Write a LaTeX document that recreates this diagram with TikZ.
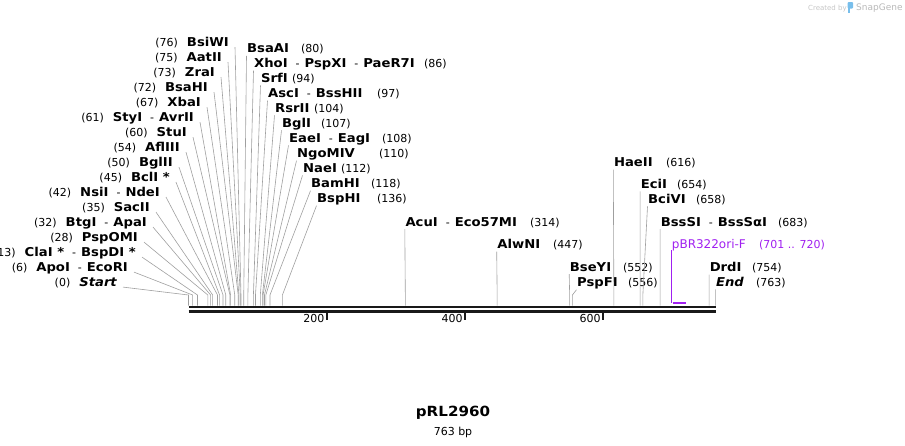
\documentclass[tikz,border=0pt]{standalone}
\usepackage{fontspec}
\setmainfont{DejaVu Sans}
\newfontfamily\ezfont{DejaVu Sans}[FakeStretch=1.08]
\usepackage{tikz}
\usetikzlibrary{positioning}

\definecolor{primer}{RGB}{160,32,240}
\definecolor{logoblue}{RGB}{120,190,235}
\newcommand{\ez}[1]{{\ezfont\fontsize{12.2}{14}\selectfont\bfseries #1}}
\newcommand{\bpos}[1]{{\fontsize{11}{13}\selectfont #1}}
\newcommand{\cutsep}{{\fontsize{11}{13}\selectfont\hspace{8pt}-\hspace{5pt}}}

\begin{document}
\begin{tikzpicture}[x=1pt,y=-1pt,
	cut/.style={draw=gray!75, line width=0.6pt},
	lbl/.style={inner sep=0pt},
	bar/.style={draw=black!90, line width=2.6pt},
	tick/.style={draw=black!90, line width=2pt}]

	\useasboundingbox (0,0) rectangle (905,445);

	% sequence line
	\coordinate (barL) at (188.5,307);
	\coordinate (barR) at (715.5,307);
	\draw[bar] (barL) -- (barR);
	\draw[bar] ([yshift=-4.3pt]barL) -- ([yshift=-4.3pt]barR);

	\foreach \bp [count=\i] in {200,400,600}{
		\coordinate (t\i) at ({188.5+0.6905*\bp},312.5);
		\draw[tick] (t\i) -- ++(0,7);
		\node[lbl, anchor=base east, font=\fontsize{11}{13}\selectfont] (tl\i) at ([xshift=-2pt,yshift=-9.5pt]t\i) {\bp};
	}

	% sites left of the fan
	\foreach \ypos/\xend/\site/\cutname [count=\i] in {
		41.7/229/76/\ez{BsiWI},
		56.7/222/75/\ez{AatII},
		71.7/215/73/\ez{ZraI},
		86.7/208/72/\ez{BsaHI},
		101.7/201/67/\ez{XbaI},
		116.7/194/61/\ez{StyI}\cutsep\ez{AvrII},
		131.7/187/60/\ez{StuI},
		146.7/180/54/\ez{AflIII},
		161.7/173/50/\ez{BglII},
		176.7/170/45/\ez{BclI *},
		191.7/160/42/\ez{NsiI}\cutsep\ez{NdeI},
		206.7/150/35/\ez{SacII},
		221.7/147/32/\ez{BtgI}\cutsep\ez{ApaI},
		236.7/138/28/\ez{PspOMI},
		251.7/136/13/\ez{ClaI *}\cutsep\ez{BspDI *},
		266.7/128/6/\ez{ApoI}\cutsep\ez{EcoRI},
		281.7/117/0/\ez{\itshape Start}}{
		\node[lbl, anchor=base east] (L\i) at (\xend,\ypos+4.4) {\bpos{(\site)}\hspace{9pt}\cutname};
		\coordinate (Ls\i) at ({188.5+0.6905*\site},295);
		\coordinate (Lb\i) at ({188.5+0.6905*\site},305.7);
		\draw[cut] ([xshift=6pt,yshift=-1pt]L\i.base east) -- (Ls\i) -- (Lb\i);
	}

	% sites right of the fan and the rest
	\foreach \ypos/\xstart/\site/\cutname/\numx [count=\i] in {
		48.5/247/80/\ez{BsaAI}/301,
		63.3/254/86/\ez{XhoI}\cutsep\ez{PspXI}\cutsep\ez{PaeR7I}/424,
		78/261/94/\ez{SrfI}/292,
		93.3/268/97/\ez{AscI}\cutsep\ez{BssHII}/377,
		108/275/104/\ez{RsrII}/314,
		123/282/107/\ez{BglI}/321,
		138/289/108/\ez{EaeI}\cutsep\ez{EagI}/382,
		153.3/297/110/\ez{NgoMIV}/379,
		168/303/112/\ez{NaeI}/341,
		183.3/311/118/\ez{BamHI}/371,
		198.3/317/136/\ez{BspHI}/377,
		221.7/405.3/314/\ez{AcuI}\cutsep\ez{Eco57MI}/530,
		244.3/497.2/447/\ez{AlwNI}/553,
		266.7/569.7/552/\ez{BseYI}/623,
		282.3/577/556/\ez{PspFI}/628,
		162.3/613.8/616/\ez{HaeII}/666,
		184/640.6/654/\ez{EciI}/677,
		199/648/658/\ez{BciVI}/696,
		221.7/660.6/683/\ez{BssSI}\cutsep\ez{BssSαI}/778,
		267.3/709.6/754/\ez{DrdI}/752,
		282/715.9/763/\ez{\itshape End}/756}{
		\node[lbl, anchor=base west] (R\i) at (\xstart,\ypos+4.4) {\cutname};
		\node[lbl, anchor=base west] (Rn\i) at (\numx,\ypos+4.4) {\bpos{(\site)}};
		\coordinate (Rs\i) at ({188.5+0.6905*\site},295);
		\coordinate (Rb\i) at ({188.5+0.6905*\site},305.7);
		\draw[cut] ([xshift=-0.5pt,yshift=-3pt]R\i.base west) -- (Rs\i) -- (Rb\i);
	}

	% primer
	\node[lbl, anchor=base west, text=primer, font=\fontsize{12}{14}\selectfont] (pr) at (671.7,248.7) {pBR322ori-F};
	\node[lbl, anchor=base west, text=primer, font=\fontsize{11}{13}\selectfont] (prn) at (759,248.7) {(701 .. 720)};
	\coordinate (prA) at ({188.5+0.6905*701},303.3);
	\coordinate (prB) at ({188.5+0.6905*720},303.3);
	\draw[primer, line width=1pt] ([yshift=-1.5pt]pr.base west) -- (pr.base west |- prA);
	\draw[primer, line width=2pt] (prA) -- (prB);

	% map name
	\node[font=\ezfont\fontsize{14}{16}\selectfont\bfseries] (title) at (453,413) {pRL2960};
	\node[font=\fontsize{11}{12}\selectfont, below=0pt of title] (len) {763 bp};

	% credit
	\node[lbl, anchor=base west, text=gray!45, font=\fontsize{7}{8}\selectfont] (made) at (808,10) {Created by};
	\fill[logoblue, rounded corners=1pt] (847.5,2) rectangle (853,8.5);
	\fill[logoblue] (847.5,6) rectangle (850,12.5);
	\node[lbl, anchor=base west, text=gray!55, font=\fontsize{9}{10}\selectfont] (sg) at (856,10.5) {SnapGene};

\end{tikzpicture}
\end{document}
